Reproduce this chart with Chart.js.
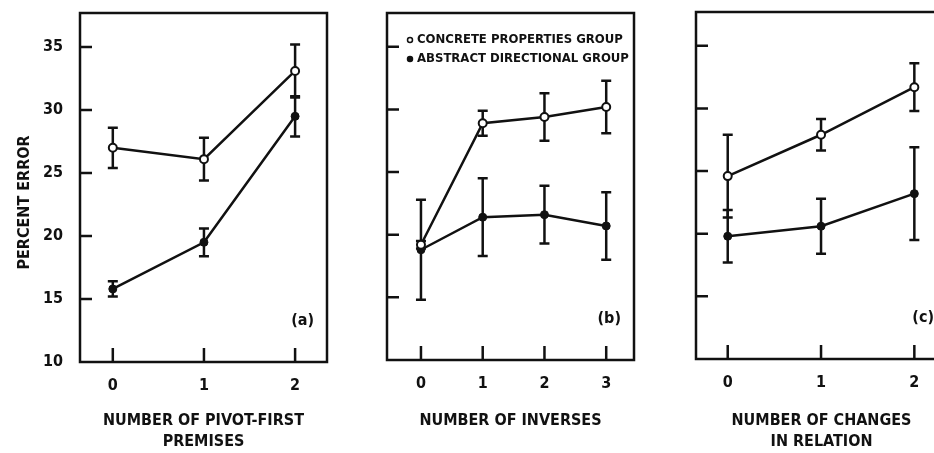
<!DOCTYPE html>
<html>
<head>
<meta charset="utf-8">
<script src="https://cdn.jsdelivr.net/npm/chart.js@4.4.1/dist/chart.umd.min.js"></script>
<style>
  html, body { margin: 0; padding: 0; background: #fff; overflow: hidden; }
  body { width: 934px; height: 453px; position: relative; }
  .panel { position: absolute; top: 0; height: 453px; }
</style>
</head>
<body>
<div class="panel" style="left:0;width:340px"><canvas id="chartA"></canvas></div>
<div class="panel" style="left:340px;width:300px"><canvas id="chartB"></canvas></div>
<div class="panel" style="left:640px;width:320px"><canvas id="chartC"></canvas></div>
<script>
// series names
const seriesLabels = ['CONCRETE PROPERTIES GROUP', 'ABSTRACT DIRECTIONAL GROUP'];

// (a) number of pivot-first premises
const pivotFirst = [0, 1, 2];
const concreteA = [27.0, 26.1, 33.1];
const concreteErrA = [1.6, 1.7, 2.1];
const abstractA = [15.8, 19.5, 29.5];
const abstractErrA = [0.6, 1.1, 1.6];

// (b) number of inverses
const inverses = [0, 1, 2, 3];
const concreteB = [19.2, 28.9, 29.4, 30.2];
const concreteErrB = [0.3, 1.0, 1.9, 2.1];
const abstractB = [18.8, 21.4, 21.6, 20.7];
const abstractErrB = [4.0, 3.1, 2.3, 2.7];

// (c) number of changes in relation
const changes = [0, 1, 2];
const concreteC = [24.6, 27.9, 31.7];
const concreteErrC = [3.3, 1.25, 1.9];
const abstractC = [19.8, 20.6, 23.2];
const abstractErrC = [2.1, 2.2, 3.7];

const yTicks = [10, 15, 20, 25, 30, 35];
const yTitle = 'PERCENT ERROR';

const INK = '#111';
const FONT = "'Liberation Sans Narrow', 'DejaVu Sans Condensed', 'Liberation Sans', sans-serif";

const errorBars = {
  id: 'errorBars',
  beforeDatasetsDraw(chart) {
    const { ctx, scales: { x, y } } = chart;
    ctx.save();
    ctx.strokeStyle = INK;
    ctx.lineWidth = 2.5;
    chart.data.datasets.forEach(ds => {
      ds.data.forEach((p, i) => {
        const e = ds.errors[i];
        const px = x.getPixelForValue(p.x);
        const top = y.getPixelForValue(p.y + e);
        const bot = y.getPixelForValue(p.y - e);
        ctx.beginPath();
        ctx.moveTo(px, top); ctx.lineTo(px, bot);
        ctx.moveTo(px - 5, top); ctx.lineTo(px + 5, top);
        ctx.moveTo(px - 5, bot); ctx.lineTo(px + 5, bot);
        ctx.stroke();
      });
    });
    ctx.restore();
  }
};

// box round the plot, inward ticks, panel tag, legend, y title
const frame = {
  id: 'frame',
  beforeDatasetsDraw(chart, args, opts) {
    const { ctx, chartArea: a, scales: { x, y } } = chart;
    ctx.save();
    ctx.strokeStyle = INK;
    ctx.lineWidth = 2.5;
    ctx.strokeRect(a.left, a.top, a.right - a.left, a.bottom - a.top);
    ctx.beginPath();
    y.ticks.forEach(t => {
      const py = y.getPixelForValue(t.value);
      if (py >= a.bottom - 2) return;
      ctx.moveTo(a.left, py); ctx.lineTo(a.left + 12, py);
    });
    x.ticks.forEach(t => {
      const px = x.getPixelForValue(t.value);
      ctx.moveTo(px, a.bottom); ctx.lineTo(px, a.bottom - 14);
    });
    ctx.stroke();

    ctx.fillStyle = INK;
    ctx.font = 'bold 16px ' + FONT;
    ctx.textAlign = 'right';
    ctx.textBaseline = 'middle';
    ctx.fillText(opts.tag, a.right - 13, a.bottom - 41);

    if (opts.legend) {
      ctx.font = 'bold 13px ' + FONT;
      ctx.textAlign = 'left';
      chart.data.datasets.forEach((ds, i) => {
        const ly = a.top + 27 + i * 19;
        ctx.beginPath();
        ctx.arc(a.left + 23, ly, 2.5, 0, Math.PI * 2);
        ctx.fillStyle = ds.pointBackgroundColor;
        ctx.fill();
        ctx.lineWidth = 1.5;
        ctx.stroke();
        ctx.fillStyle = INK;
        ctx.fillText(ds.label, a.left + 30, ly);
      });
    }

    if (opts.yTitle) {
      ctx.font = 'bold 16px ' + FONT;
      ctx.textAlign = 'center';
      ctx.translate(a.left - 55, (a.top + a.bottom) / 2 + 15);
      ctx.rotate(-Math.PI / 2);
      ctx.fillText(opts.yTitle, 0, 0);
    }
    ctx.restore();
  }
};

function makePanel(id, xs, concrete, concreteErr, abstract, abstractErr, cfg) {
  const pts = vals => vals.map((v, i) => ({ x: xs[i], y: v }));
  return new Chart(document.getElementById(id), {
    type: 'line',
    data: {
      datasets: [{
        label: seriesLabels[0],
        data: pts(concrete),
        errors: concreteErr,
        borderColor: INK,
        borderWidth: 2.5,
        pointRadius: 4,
        pointBorderWidth: 2,
        pointBackgroundColor: '#fff',
        pointBorderColor: INK
      }, {
        label: seriesLabels[1],
        data: pts(abstract),
        errors: abstractErr,
        borderColor: INK,
        borderWidth: 2.5,
        pointRadius: 4,
        pointBorderWidth: 1,
        pointBackgroundColor: INK,
        pointBorderColor: INK
      }]
    },
    options: {
      responsive: true,
      maintainAspectRatio: false,
      animation: false,
      layout: { padding: cfg.padding },
      plugins: {
        legend: { display: false },
        tooltip: { enabled: false },
        frame: { tag: cfg.tag, legend: cfg.legend, yTitle: cfg.yTitle }
      },
      scales: {
        x: {
          type: 'linear',
          min: cfg.xMin,
          max: cfg.xMax,
          afterBuildTicks: s => { s.ticks = xs.map(v => ({ value: v })); },
          afterFit: s => { s.height = cfg.xHeight; s.paddingLeft = 0; s.paddingRight = 0; },
          grid: { display: false },
          border: { display: false },
          ticks: { color: INK, padding: 6, font: { family: FONT, size: 16, weight: 'bold' } },
          title: {
            display: true,
            text: cfg.xTitle,
            color: INK,
            padding: { top: 0, bottom: cfg.titlePad },
            font: { family: FONT, size: 16, weight: 'bold', lineHeight: 21 / 16 }
          }
        },
        y: {
          min: 10,
          max: 37.7,
          afterBuildTicks: s => { s.ticks = yTicks.map(v => ({ value: v })); },
          afterFit: s => { s.width = cfg.yWidth; s.paddingTop = 0; s.paddingBottom = 0; },
          grid: { display: false },
          border: { display: false },
          ticks: { display: cfg.yLabels, color: INK, padding: 9, font: { family: FONT, size: 16, weight: 'bold' } }
        }
      }
    },
    plugins: [frame, errorBars]
  });
}

makePanel('chartA', pivotFirst, concreteA, concreteErrA, abstractA, abstractErrA, {
  padding: { top: 13, right: 13, left: 0, bottom: 0 },
  xMin: -0.36, xMax: 2.35, xHeight: 91, yWidth: 80, yLabels: true,
  xTitle: ['NUMBER OF PIVOT-FIRST', 'PREMISES'], titlePad: 0.5,
  tag: '(a)', legend: false, yTitle: yTitle
});

makePanel('chartB', inverses, concreteB, concreteErrB, abstractB, abstractErrB, {
  padding: { top: 13, right: 6, left: 0, bottom: 0 },
  xMin: -0.55, xMax: 3.45, xHeight: 93, yWidth: 47, yLabels: false,
  xTitle: 'NUMBER OF INVERSES', titlePad: 21.5,
  tag: '(b)', legend: true, yTitle: null
});

makePanel('chartC', changes, concreteC, concreteErrC, abstractC, abstractErrC, {
  padding: { top: 12, right: 13, left: 0, bottom: 0 },
  xMin: -0.34, xMax: 2.35, xHeight: 94, yWidth: 56, yLabels: false,
  xTitle: ['NUMBER OF CHANGES', 'IN RELATION'], titlePad: 0.5,
  tag: '(c)', legend: false, yTitle: null
});
</script>
</body>
</html>
